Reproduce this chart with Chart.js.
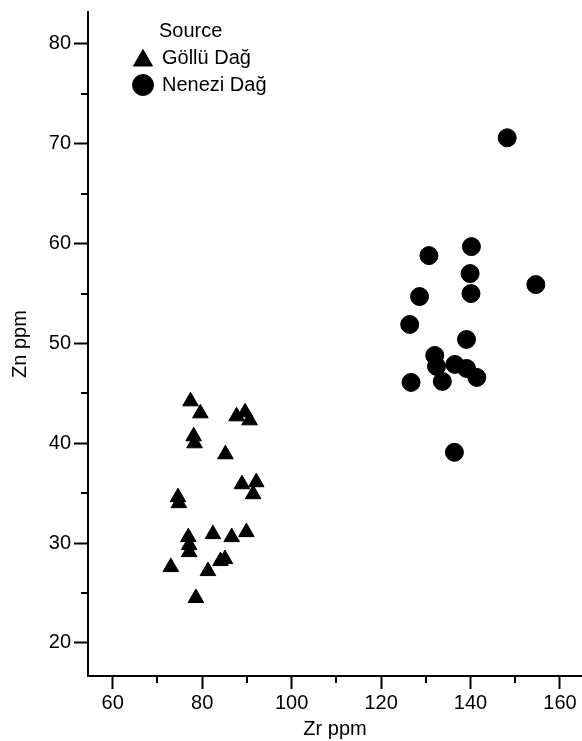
<!DOCTYPE html>
<html>
<head>
<meta charset="utf-8">
<title>Zr vs Zn by obsidian source</title>
<script src="https://cdn.jsdelivr.net/npm/chart.js@4/dist/chart.umd.min.js"></script>
<style>
  html, body { margin: 0; padding: 0; background: #fff; }
  canvas { display: block; }
</style>
</head>
<body>
<canvas id="chart" width="582" height="741"></canvas>
<script>
// Göllü Dağ samples (triangles)
const golluZr = [77.4, 79.6, 87.7, 89.6, 90.6, 78.1, 78.3, 85.2, 88.9, 92.1, 91.4, 74.6,
                 74.8, 76.9, 77.1, 77.1, 82.4, 86.6, 89.9, 85.1, 84.1, 73.0, 81.3, 78.6];
const golluZn = [44.2, 43.0, 42.7, 43.1, 42.3, 40.7, 40.0, 38.9, 35.9, 36.1, 34.9, 34.6,
                 34.0, 30.6, 29.8, 29.1, 30.9, 30.6, 31.1, 28.4, 28.2, 27.6, 27.2, 24.5];

// Nenezi Dağ samples (circles)
const neneziZr = [148.2, 140.2, 130.7, 139.9, 154.6, 140.1, 128.6, 126.4, 139.1,
                  132.0, 132.4, 136.5, 139.1, 141.4, 133.7, 126.7, 136.4];
const neneziZn = [70.6, 59.7, 58.8, 57.0, 55.9, 55.0, 54.7, 51.9, 50.4,
                  48.8, 47.7, 47.9, 47.5, 46.6, 46.2, 46.1, 39.1];

// axis ticks
const xTicks = [60, 80, 100, 120, 140, 160];
const xMinor = [70, 90, 110, 130, 150];
const yTicks = [20, 30, 40, 50, 60, 70, 80];
const yMinor = [25, 35, 45, 55, 65, 75];

const FONT = '"Liberation Sans", Arial, Helvetica, sans-serif';

function toPoints(xs, ys) {
    return xs.map((x, i) => ({ x: x, y: ys[i] }));
}

// short unlabeled ticks between the labeled ones
const minorTicks = {
    id: 'minorTicks',
    afterDraw(chart) {
        const ctx = chart.ctx;
        const xs = chart.scales.x;
        const ys = chart.scales.y;
        ctx.save();
        ctx.strokeStyle = '#000';
        ctx.lineWidth = 2;
        ctx.beginPath();
        xMinor.forEach(v => {
            const px = Math.round(xs.getPixelForValue(v));
            ctx.moveTo(px, xs.top);
            ctx.lineTo(px, xs.top + 7);
        });
        yMinor.forEach(v => {
            const py = Math.round(ys.getPixelForValue(v));
            ctx.moveTo(ys.right, py);
            ctx.lineTo(ys.right - 7, py);
        });
        ctx.stroke();
        ctx.restore();
    }
};

// legend in the top-left of the plot, title above the labels
const sourceLegend = {
    id: 'sourceLegend',
    afterDraw(chart) {
        const ctx = chart.ctx;
        const area = chart.chartArea;
        const markX = area.left + 55;
        const textX = area.left + 74;
        ctx.save();
        ctx.font = '20px ' + FONT;
        ctx.fillStyle = '#000';
        ctx.strokeStyle = '#000';
        ctx.textBaseline = 'middle';
        ctx.fillText('Source', textX - 3, area.top + 19);
        chart.data.datasets.forEach((ds, i) => {
            const y = area.top + 46 + i * 27;
            const shift = ds.pointStyle === 'triangle' ? 2.5 : 0;
            Chart.helpers.drawPoint(ctx, {
                pointStyle: ds.pointStyle,
                radius: ds.pointStyle === 'triangle' ? 11 : 10.5,
                borderWidth: 1,
                rotation: 0
            }, markX, y + shift);
            ctx.fillText(ds.label, textX, y);
        });
        ctx.restore();
    }
};

new Chart(document.getElementById('chart'), {
    type: 'scatter',
    data: {
        datasets: [{
            label: 'Göllü Dağ',
            data: toPoints(golluZr, golluZn),
            pointStyle: 'triangle',
            pointRadius: 9,
            borderWidth: 1,
            backgroundColor: '#000',
            borderColor: '#000'
        }, {
            label: 'Nenezi Dağ',
            data: toPoints(neneziZr, neneziZn),
            pointStyle: 'circle',
            pointRadius: 9,
            borderWidth: 1,
            backgroundColor: '#000',
            borderColor: '#000'
        }]
    },
    options: {
        responsive: false,
        animation: false,
        devicePixelRatio: 1,
        layout: { autoPadding: false, padding: { top: 12, right: 0, bottom: 0, left: 0 } },
        plugins: {
            legend: { display: false },
            tooltip: { enabled: false }
        },
        scales: {
            x: {
                type: 'linear',
                min: 54.48,
                max: 164.92,
                afterBuildTicks: s => { s.ticks = xTicks.map(v => ({ value: v })); },
                afterFit: s => { s.height = 65; s.paddingLeft = 0; s.paddingRight = 0; },
                border: { display: true, color: '#000', width: 2 },
                grid: { drawOnChartArea: false, drawTicks: true, tickLength: 13, tickWidth: 2, tickColor: '#000' },
                ticks: { color: '#000', padding: 2, maxRotation: 0, font: { family: FONT, size: 20 } },
                title: { display: true, text: 'Zr ppm', color: '#000', padding: { top: 0, bottom: 0 }, font: { family: FONT, size: 20 } }
            },
            y: {
                type: 'linear',
                min: 16.69,
                max: 83.2,
                afterBuildTicks: s => { s.ticks = yTicks.map(v => ({ value: v })); },
                afterFit: s => { s.width = 88; s.paddingTop = 0; s.paddingBottom = 0; },
                border: { display: true, color: '#000', width: 2 },
                grid: { drawOnChartArea: false, drawTicks: true, tickLength: 14, tickWidth: 2, tickColor: '#000' },
                ticks: { color: '#000', padding: 3, font: { family: FONT, size: 20 } },
                title: { display: true, text: 'Zn ppm', color: '#000', padding: { top: 8, bottom: 0 }, font: { family: FONT, size: 20 } }
            }
        }
    },
    plugins: [minorTicks, sourceLegend]
});
</script>
</body>
</html>
